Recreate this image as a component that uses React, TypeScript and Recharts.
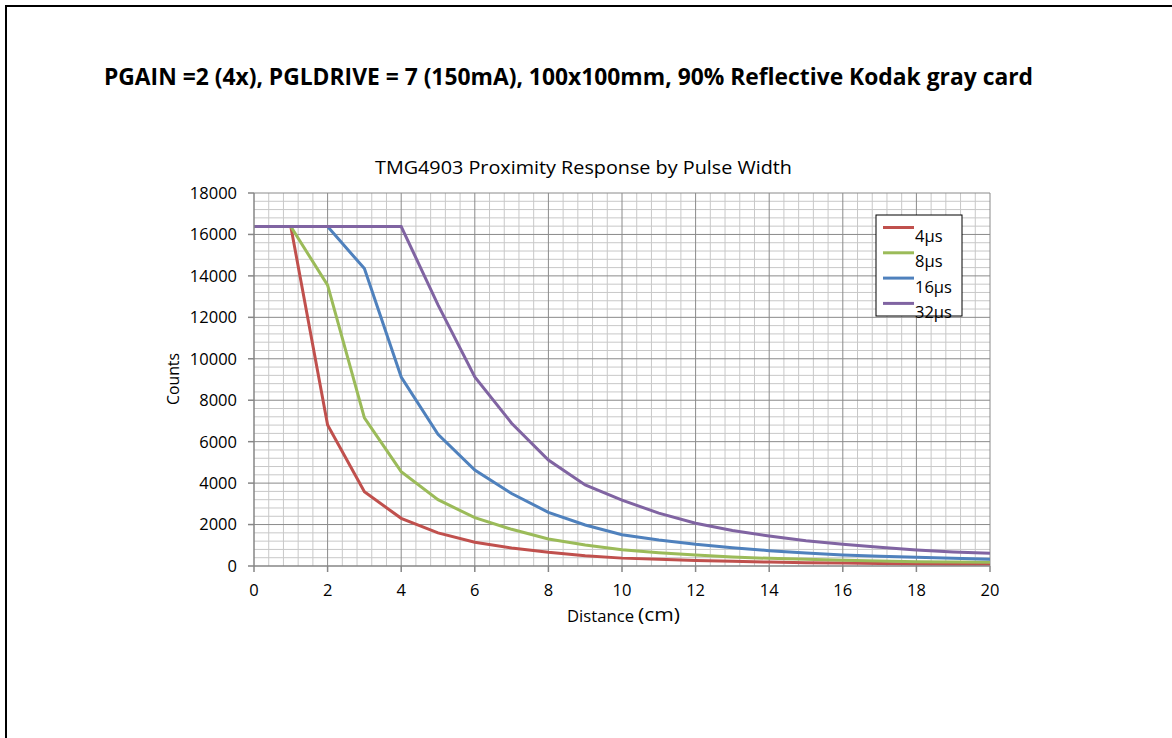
import React from 'react';
import { LineChart, Line, XAxis, YAxis, ReferenceLine } from 'recharts';

// ---- Data ----
const distances = [0, 1, 2, 3, 4, 5, 6, 7, 8, 9, 10, 11, 12, 13, 14, 15, 16, 17, 18, 19, 20];
const pulse4 = [16383, 16383, 6800, 3580, 2300, 1600, 1150, 870, 660, 500, 380, 320, 270, 225, 190, 160, 140, 120, 100, 90, 80];
const pulse8 = [16383, 16383, 13550, 7150, 4550, 3200, 2330, 1770, 1300, 1010, 780, 640, 530, 440, 370, 320, 280, 240, 210, 190, 175];
const pulse16 = [16383, 16383, 16383, 14350, 9120, 6350, 4630, 3500, 2590, 1980, 1510, 1250, 1045, 880, 740, 630, 535, 470, 420, 370, 325];
const pulse32 = [16383, 16383, 16383, 16383, 16383, 12600, 9120, 6890, 5110, 3910, 3180, 2550, 2060, 1710, 1450, 1220, 1045, 900, 775, 680, 610];

const seriesNames = ['4\u00B5s', '8\u00B5s', '16\u00B5s', '32\u00B5s'];
const seriesKeys = ['p4', 'p8', 'p16', 'p32'];
const seriesColors = ['#C0504D', '#9BBB59', '#4F81BD', '#8064A2'];

const xTicks = [0, 2, 4, 6, 8, 10, 12, 14, 16, 18, 20];
const yTicks = [0, 2000, 4000, 6000, 8000, 10000, 12000, 14000, 16000, 18000];

const mainTitle = 'PGAIN =2 (4x), PGLDRIVE = 7 (150mA), 100x100mm, 90% Reflective Kodak gray card';
const chartTitle = 'TMG4903 Proximity Response by Pulse Width';
const yLabel = 'Counts';
const xLabelMain = 'Distance';
const xLabelUnit = '(cm)';

// minor grid positions (every 0.4 cm, every 400 counts)
const minorX = Array.from({ length: 51 }, (_, i) => Math.round(i * 0.4 * 10) / 10).filter((v) => !xTicks.includes(v));
const minorY = Array.from({ length: 46 }, (_, i) => i * 400).filter((v) => !yTicks.includes(v));

const data = distances.map((d, i) => ({
  x: d,
  p4: pulse4[i],
  p8: pulse8[i],
  p16: pulse16[i],
  p32: pulse32[i],
}));

const FONT = '"Open Sans", "DejaVu Sans", sans-serif';
const MINOR = '#c8c8c8';
const MAJOR = '#8a8a8a';
const AXIS = '#868686';

export default function App() {
  return (
    <div style={{ position: 'absolute', left: 0, top: 0, width: 1172, height: 738, background: '#fff' }}>
      <LineChart
        width={1172}
        height={738}
        data={data}
        margin={{ top: 193, right: 182, bottom: 132, left: 194 }}
      >
        {minorX.map((v) => (
          <ReferenceLine key={'mx' + v} x={v} stroke={MINOR} strokeWidth={1} />
        ))}
        {minorY.map((v) => (
          <ReferenceLine key={'my' + v} y={v} stroke={MINOR} strokeWidth={1} />
        ))}
        {xTicks.filter((v) => v !== 0).map((v) => (
          <ReferenceLine key={'Mx' + v} x={v} stroke={MAJOR} strokeWidth={1} />
        ))}
        {yTicks.filter((v) => v !== 0).map((v) => (
          <ReferenceLine key={'My' + v} y={v} stroke={MAJOR} strokeWidth={1} />
        ))}
        <XAxis
          type="number"
          dataKey="x"
          domain={[0, 20]}
          ticks={xTicks}
          interval={0}
          height={40}
          stroke={AXIS}
          strokeWidth={1.5}
          tickSize={6}
          tickMargin={12}
          tick={{ fill: '#000', fontSize: 16.5, fontFamily: FONT }}
          allowDataOverflow
        />
        <YAxis
          type="number"
          domain={[0, 18000]}
          ticks={yTicks}
          interval={0}
          width={60}
          stroke={AXIS}
          strokeWidth={1.5}
          tickSize={6}
          tickMargin={11}
          tick={{ fill: '#000', fontSize: 16.5, fontFamily: FONT }}
          allowDataOverflow
        />
        {seriesKeys.map((k, i) => (
          <Line
            key={k}
            type="linear"
            dataKey={k}
            name={seriesNames[i]}
            stroke={seriesColors[i]}
            strokeWidth={3}
            dot={false}
            activeDot={false}
            isAnimationActive={false}
          />
        ))}
      </LineChart>
      <svg
        width={1172}
        height={738}
        style={{ position: 'absolute', left: 0, top: 0, pointerEvents: 'none' }}
      >
        <line x1={5} y1={6} x2={1172} y2={6} stroke="#000" strokeWidth={2} />
        <line x1={6} y1={5} x2={6} y2={738} stroke="#000" strokeWidth={2} />
        <text
          x={104}
          y={85}
          fontFamily={FONT}
          fontWeight="bold"
          fontSize={23}
          textLength={929}
          lengthAdjust="spacingAndGlyphs"
          fill="#000"
        >
          {mainTitle}
        </text>
        <text
          x={375}
          y={174}
          fontFamily={FONT}
          fontSize={18}
          textLength={417}
          lengthAdjust="spacingAndGlyphs"
          fill="#000"
        >
          {chartTitle}
        </text>
        <text
          x={179}
          y={379}
          transform="rotate(-90 179 379)"
          textAnchor="middle"
          fontFamily={FONT}
          fontSize={16.5}
          textLength={52}
          lengthAdjust="spacingAndGlyphs"
          fill="#000"
        >
          {yLabel}
        </text>
        <text x={567} y={622} fontFamily={FONT} fontSize={15.5} textLength={67} lengthAdjust="spacingAndGlyphs" fill="#000">
          {xLabelMain}
        </text>
        <text x={638} y={621} fontFamily={FONT} fontSize={19} textLength={42} lengthAdjust="spacingAndGlyphs" fill="#000">
          {xLabelUnit}
        </text>
        <rect x={876} y={215} width={86} height={101} fill="#fff" stroke="#000" strokeWidth={1} />
        {seriesNames.map((n, i) => (
          <g key={n}>
            <line
              x1={883}
              x2={914}
              y1={227.5 + i * 25.3}
              y2={227.5 + i * 25.3}
              stroke={seriesColors[i]}
              strokeWidth={3}
            />
            <text x={915} y={242 + i * 25.3} fontFamily={FONT} fontSize={16.5} fill="#000">
              {n}
            </text>
          </g>
        ))}
      </svg>
    </div>
  );
}
